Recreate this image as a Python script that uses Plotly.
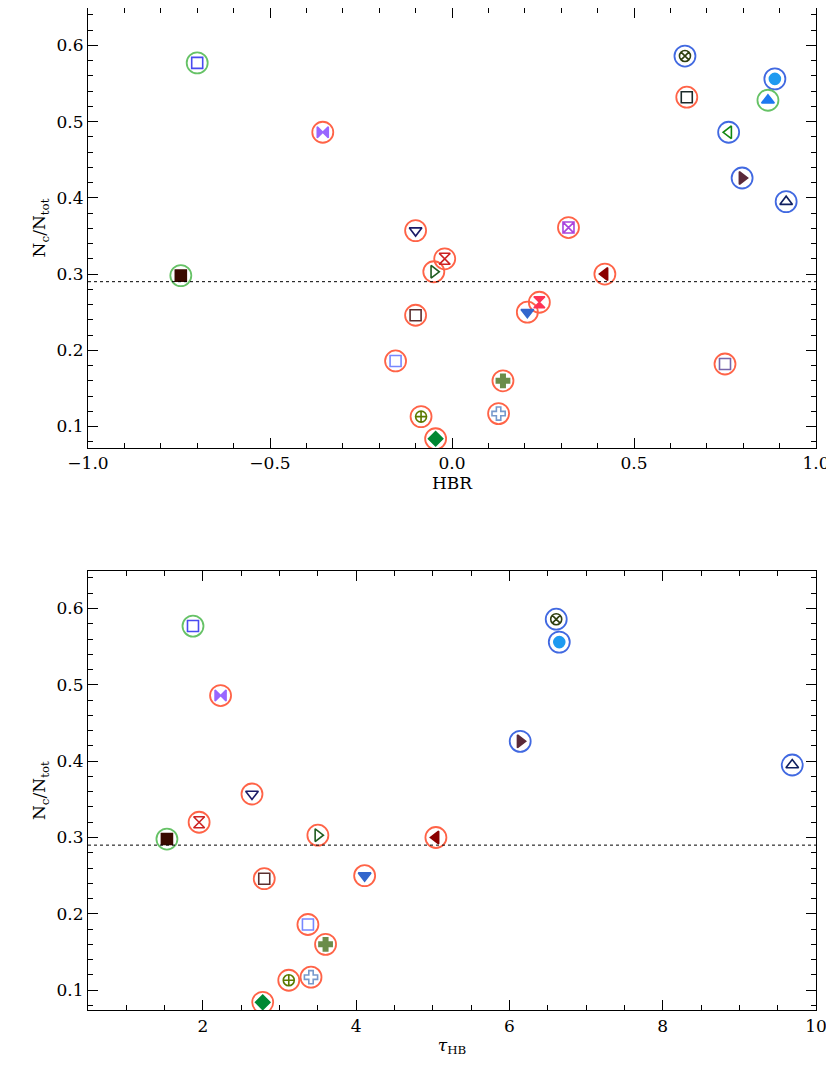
import plotly.graph_objects as go

# per-object values
hbr = [-0.70, -0.355, -0.10, -0.02, -0.05, -0.745, -0.10, -0.155, -0.085, -0.045,
       0.14, 0.128, 0.207, 0.24, 0.32, 0.42, 0.64, 0.645, 0.887, 0.868, 0.76, 0.797, 0.918, 0.75]
ratio = [0.577, 0.486, 0.357, 0.320, 0.303, 0.298, 0.246, 0.186, 0.113, 0.084,
         0.160, 0.117, 0.250, 0.263, 0.361, 0.300, 0.586, 0.532, 0.556, 0.528, 0.486, 0.426, 0.395, 0.182]
tau = [1.87, 2.23, 2.64, 1.95, 3.50, 1.53, 2.80, 3.37, 3.12, 2.78,
       3.60, 3.41, 4.11, None, None, 5.04, 6.61, None, 6.65, None, None, 6.14, 9.69, None]
ring = ["g", "r", "r", "r", "r", "g", "r", "r", "r", "r",
        "r", "r", "r", "r", "r", "r", "b", "r", "b", "g", "b", "b", "b", "r"]
symbols = ["square-open", "bowtie", "triangle-down-open", "hourglass-open", "triangle-right-open",
           "square", "square-open", "square-open", "circle-cross-open", "diamond",
           "cross", "cross-open", "triangle-down", "hourglass", "square-x-open",
           "triangle-left", "circle-x-open", "square-open", "circle", "triangle-up",
           "triangle-left-open", "triangle-right", "triangle-up-open", "square-open"]
colors = ["#4a4af0", "#9966ff", "#1a1a66", "#cc2222", "#1f5c1f", "#3a0a00", "#5a3030", "#7788ff",
          "#5a7a00", "#008833", "#6b8c4a", "#7799cc", "#3366cc", "#ff3355", "#aa44dd", "#8b0000",
          "#2f3f10", "#1a2a2a", "#1e9af0", "#1e78f0", "#118811", "#5a2a3a", "#102060", "#7766aa"]

ring_colors = {"r": "#ff6347", "g": "#66c266", "b": "#4169e1"}
rc = [ring_colors[k] for k in ring]
font = dict(family="DejaVu Serif", size=17, color="black")

fig = go.Figure()


def add_panel(xs, ys, cols, syms, rcols, xa, ya):
    fig.add_trace(go.Scatter(x=xs, y=ys, mode="markers", xaxis=xa, yaxis=ya, showlegend=False,
                             marker=dict(symbol="circle-open", size=21, color=rcols,
                                         line=dict(width=1.8, color=rcols))))
    fig.add_trace(go.Scatter(x=xs, y=ys, mode="markers", xaxis=xa, yaxis=ya, showlegend=False,
                             marker=dict(symbol=syms, size=11, color=cols,
                                         line=dict(width=1.6, color=cols))))


add_panel(hbr, ratio, colors, symbols, rc, "x", "y")
idx = [i for i, t in enumerate(tau) if t is not None]
add_panel([tau[i] for i in idx], [ratio[i] for i in idx], [colors[i] for i in idx],
          [symbols[i] for i in idx], [rc[i] for i in idx], "x2", "y2")

for xa, ya, x0, x1 in [("x", "y", -1, 1), ("x2", "y2", 0.5, 10)]:
    fig.add_trace(go.Scatter(x=[x0, x1], y=[0.29, 0.29], mode="lines", xaxis=xa, yaxis=ya,
                             showlegend=False, line=dict(color="black", width=1, dash="dot")))

axis = dict(showgrid=False, zeroline=False, showline=True, mirror="ticks", linecolor="black",
            linewidth=1.2, ticks="inside", ticklen=10, tickcolor="black", tickfont=font,
            minor=dict(ticks="inside", ticklen=5, tickcolor="black"))

fig.update_layout(
    width=834, height=1072, plot_bgcolor="white", paper_bgcolor="white",
    margin=dict(l=80, r=26, t=0, b=70), font=font,
    xaxis=dict(axis, range=[-1, 1], dtick=0.5, tickformat=".1f", minor_dtick=0.1, anchor="y",
               title=dict(text="HBR", font=font, standoff=4)),
    yaxis=dict(axis, range=[0.072, 0.649], dtick=0.1, tickformat=".1f", minor_dtick=0.02,
               domain=[0.561, 1], anchor="x",
               title=dict(text="N<sub>c</sub>/N<sub>tot</sub>", font=font, standoff=6)),
    xaxis2=dict(axis, range=[0.5, 10], dtick=2, minor_dtick=0.5, anchor="y2",
                title=dict(text="<i>τ</i><sub>HB</sub>", font=font, standoff=4)),
    yaxis2=dict(axis, range=[0.074, 0.649], dtick=0.1, tickformat=".1f", minor_dtick=0.02,
                domain=[0, 0.438], anchor="x2",
                title=dict(text="N<sub>c</sub>/N<sub>tot</sub>", font=font, standoff=6)),
)

fig.write_html("out.html")
